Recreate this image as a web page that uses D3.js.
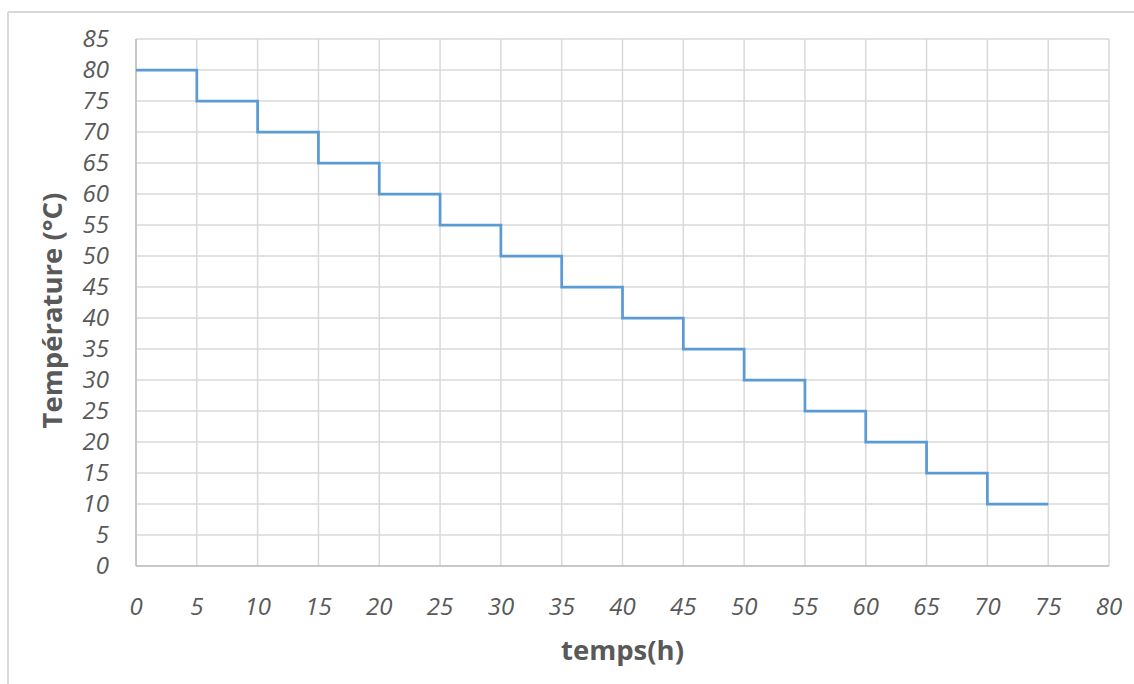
<!DOCTYPE html>
<html>
<head>
<meta charset="utf-8">
<script src="https://cdn.jsdelivr.net/npm/d3@7"></script>
<style>
  html, body { margin: 0; padding: 0; background: #ffffff; }
  svg { display: block; }
</style>
</head>
<body>
<svg id="chart" width="1134" height="684"></svg>
<script>
// Data
const timeHours = [0, 5, 10, 15, 20, 25, 30, 35, 40, 45, 50, 55, 60, 65, 70, 75];
const temperatureC = [80, 75, 70, 65, 60, 55, 50, 45, 40, 35, 30, 25, 20, 15, 10, 10];
const xTicks = [0, 5, 10, 15, 20, 25, 30, 35, 40, 45, 50, 55, 60, 65, 70, 75, 80];
const yTicks = [0, 5, 10, 15, 20, 25, 30, 35, 40, 45, 50, 55, 60, 65, 70, 75, 80, 85];
const xTitle = "temps(h)";
const yTitle = "Température (°C)";

(function () {
const svg = d3.select("#chart");
const W = 1134, H = 684;
const pLeft = 136, pRight = 1109, pTop = 39, pBottom = 566;

const x = d3.scaleLinear().domain([0, 80]).range([pLeft, pRight]);
const y = d3.scaleLinear().domain([0, 85]).range([pBottom, pTop]);

// Outer frame (partial)
svg.append("line").attr("x1", 8).attr("x2", W).attr("y1", 12).attr("y2", 12)
  .attr("stroke", "#d9d9d9").attr("stroke-width", 2);
svg.append("line").attr("x1", 8).attr("x2", 8).attr("y1", 12).attr("y2", H)
  .attr("stroke", "#d9d9d9").attr("stroke-width", 2);

// Grid
const grid = svg.append("g");
grid.selectAll("line.h").data(yTicks).join("line").attr("class", "h")
  .attr("x1", pLeft).attr("x2", pRight)
  .attr("y1", d => y(d)).attr("y2", d => y(d))
  .attr("stroke", "#d9d9d9").attr("stroke-width", 1.5);
grid.selectAll("line.v").data(xTicks).join("line").attr("class", "v")
  .attr("y1", pTop).attr("y2", pBottom)
  .attr("x1", d => x(d)).attr("x2", d => x(d))
  .attr("stroke", "#d9d9d9").attr("stroke-width", 1.5);

// Axes lines
svg.append("line").attr("x1", pLeft).attr("x2", pRight).attr("y1", pBottom).attr("y2", pBottom)
  .attr("stroke", "#bfbfbf").attr("stroke-width", 1.5);
svg.append("line").attr("x1", pLeft).attr("x2", pLeft).attr("y1", pTop).attr("y2", pBottom)
  .attr("stroke", "#bfbfbf").attr("stroke-width", 1.5);

// Tick labels
const fontFam = "'Open Sans', 'DejaVu Sans', sans-serif";
svg.append("g").selectAll("text").data(yTicks).join("text")
  .attr("x", 109).attr("y", d => y(d))
  .attr("dy", "0.35em")
  .attr("text-anchor", "end")
  .attr("font-family", fontFam).attr("font-style", "italic")
  .attr("font-size", 24).attr("fill", "#595959")
  .text(d => d);
svg.append("g").selectAll("text").data(xTicks).join("text")
  .attr("x", d => x(d)).attr("y", 607)
  .attr("dy", "0.35em")
  .attr("text-anchor", "middle")
  .attr("font-family", fontFam).attr("font-style", "italic")
  .attr("font-size", 24).attr("fill", "#595959")
  .text(d => d);

// Titles
svg.append("text")
  .attr("x", (pLeft + pRight) / 2).attr("y", 650)
  .attr("dy", "0.35em")
  .attr("text-anchor", "middle")
  .attr("font-family", fontFam).attr("font-weight", "bold")
  .attr("font-size", 27.5).attr("fill", "#595959")
  .text(xTitle);
svg.append("text")
  .attr("transform", `translate(52, ${(pTop + pBottom) / 2 + 8}) rotate(-90)`)
  .attr("dy", "0.35em")
  .attr("text-anchor", "middle")
  .attr("font-family", fontFam).attr("font-weight", "bold")
  .attr("font-size", 27.5).attr("fill", "#595959")
  .text(yTitle);

// Step line
const data = timeHours.map((t, i) => ({ t, v: temperatureC[i] }));
const stepLine = d3.line().x(d => x(d.t)).y(d => y(d.v)).curve(d3.curveStepAfter);
svg.append("path")
  .datum(data)
  .attr("d", stepLine)
  .attr("fill", "none")
  .attr("stroke", "#5b9bd5")
  .attr("stroke-width", 2.75)
  .attr("stroke-linejoin", "miter");
})();
</script>
</body>
</html>
